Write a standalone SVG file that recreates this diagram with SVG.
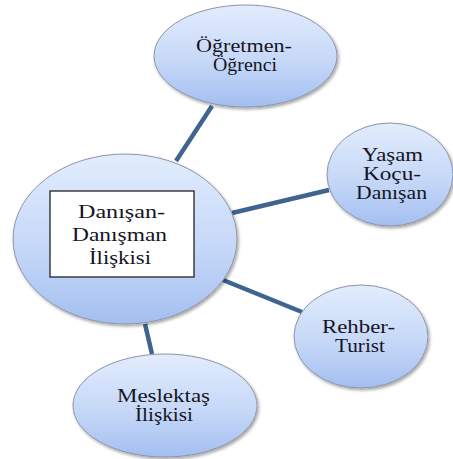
<svg xmlns="http://www.w3.org/2000/svg" width="453" height="459" viewBox="0 0 453 459">
<defs>
<linearGradient id="bub" x1="0" y1="0" x2="0" y2="1">
<stop offset="0" stop-color="#e2ecfc"/>
<stop offset="0.55" stop-color="#c6d8f8"/>
<stop offset="1" stop-color="#a3bff0"/>
</linearGradient>
<filter id="sh" x="-10%" y="-10%" width="125%" height="130%">
<feDropShadow dx="1.5" dy="2" stdDeviation="1.5" flood-color="#000" flood-opacity="0.35"/>
</filter>
</defs>
<style>
.bubble{fill:url(#bub);stroke:#8d94a8;stroke-width:1;filter:url(#sh)}
.conn{stroke:#3f6490;stroke-width:4.5;stroke-linecap:butt;fill:none}
.t{font-size:19px;fill:#15151f;text-anchor:middle}
.box{fill:#fff;stroke:#222;stroke-width:1.3}
</style>
<rect width="453" height="459" fill="#fff"/>
<g id="connectors">
<line class="conn" x1="176" y1="161" x2="212" y2="106"/>
<line class="conn" x1="232" y1="213" x2="329" y2="190"/>
<line class="conn" x1="223" y1="280" x2="302" y2="312"/>
<line class="conn" x1="145" y1="324" x2="152" y2="354"/>
</g>
<g font-family="Liberation Serif, Times New Roman, serif">
<g id="n-ogretmen">
<ellipse class="bubble" cx="245.5" cy="56" rx="91.5" ry="51"/>
<text class="t" x="244" y="52" textLength="96" lengthAdjust="spacingAndGlyphs">Öğretmen-</text>
<text class="t" x="245" y="71" textLength="64" lengthAdjust="spacingAndGlyphs">Öğrenci</text>
</g>
<g id="n-center">
<ellipse class="bubble" cx="125" cy="239" rx="112" ry="85"/>
<rect class="box" x="50" y="191" width="144" height="86"/>
<text class="t" x="121.5" y="218" textLength="87" lengthAdjust="spacingAndGlyphs">Danışan-</text>
<text class="t" x="119.5" y="241" textLength="95" lengthAdjust="spacingAndGlyphs">Danışman</text>
<text class="t" x="120" y="264" textLength="62" lengthAdjust="spacingAndGlyphs">İlişkisi</text>
</g>
<g id="n-yasam">
<ellipse class="bubble" cx="390" cy="174.5" rx="63" ry="51.5"/>
<text class="t" x="392.5" y="161" textLength="61" lengthAdjust="spacingAndGlyphs">Yaşam</text>
<text class="t" x="392" y="180" textLength="58" lengthAdjust="spacingAndGlyphs">Koçu-</text>
<text class="t" x="391.5" y="199" textLength="71" lengthAdjust="spacingAndGlyphs">Danışan</text>
</g>
<g id="n-rehber">
<ellipse class="bubble" cx="361" cy="336.5" rx="67" ry="51.5"/>
<text class="t" x="358.5" y="333" textLength="73" lengthAdjust="spacingAndGlyphs">Rehber-</text>
<text class="t" x="360" y="352" textLength="50" lengthAdjust="spacingAndGlyphs">Turist</text>
</g>
<g id="n-meslektas">
<ellipse class="bubble" cx="165" cy="405.5" rx="92" ry="51.5"/>
<text class="t" x="163.5" y="402" textLength="93" lengthAdjust="spacingAndGlyphs">Meslektaş</text>
<text class="t" x="164" y="421" textLength="58" lengthAdjust="spacingAndGlyphs">İlişkisi</text>
</g>
</g>
</svg>
